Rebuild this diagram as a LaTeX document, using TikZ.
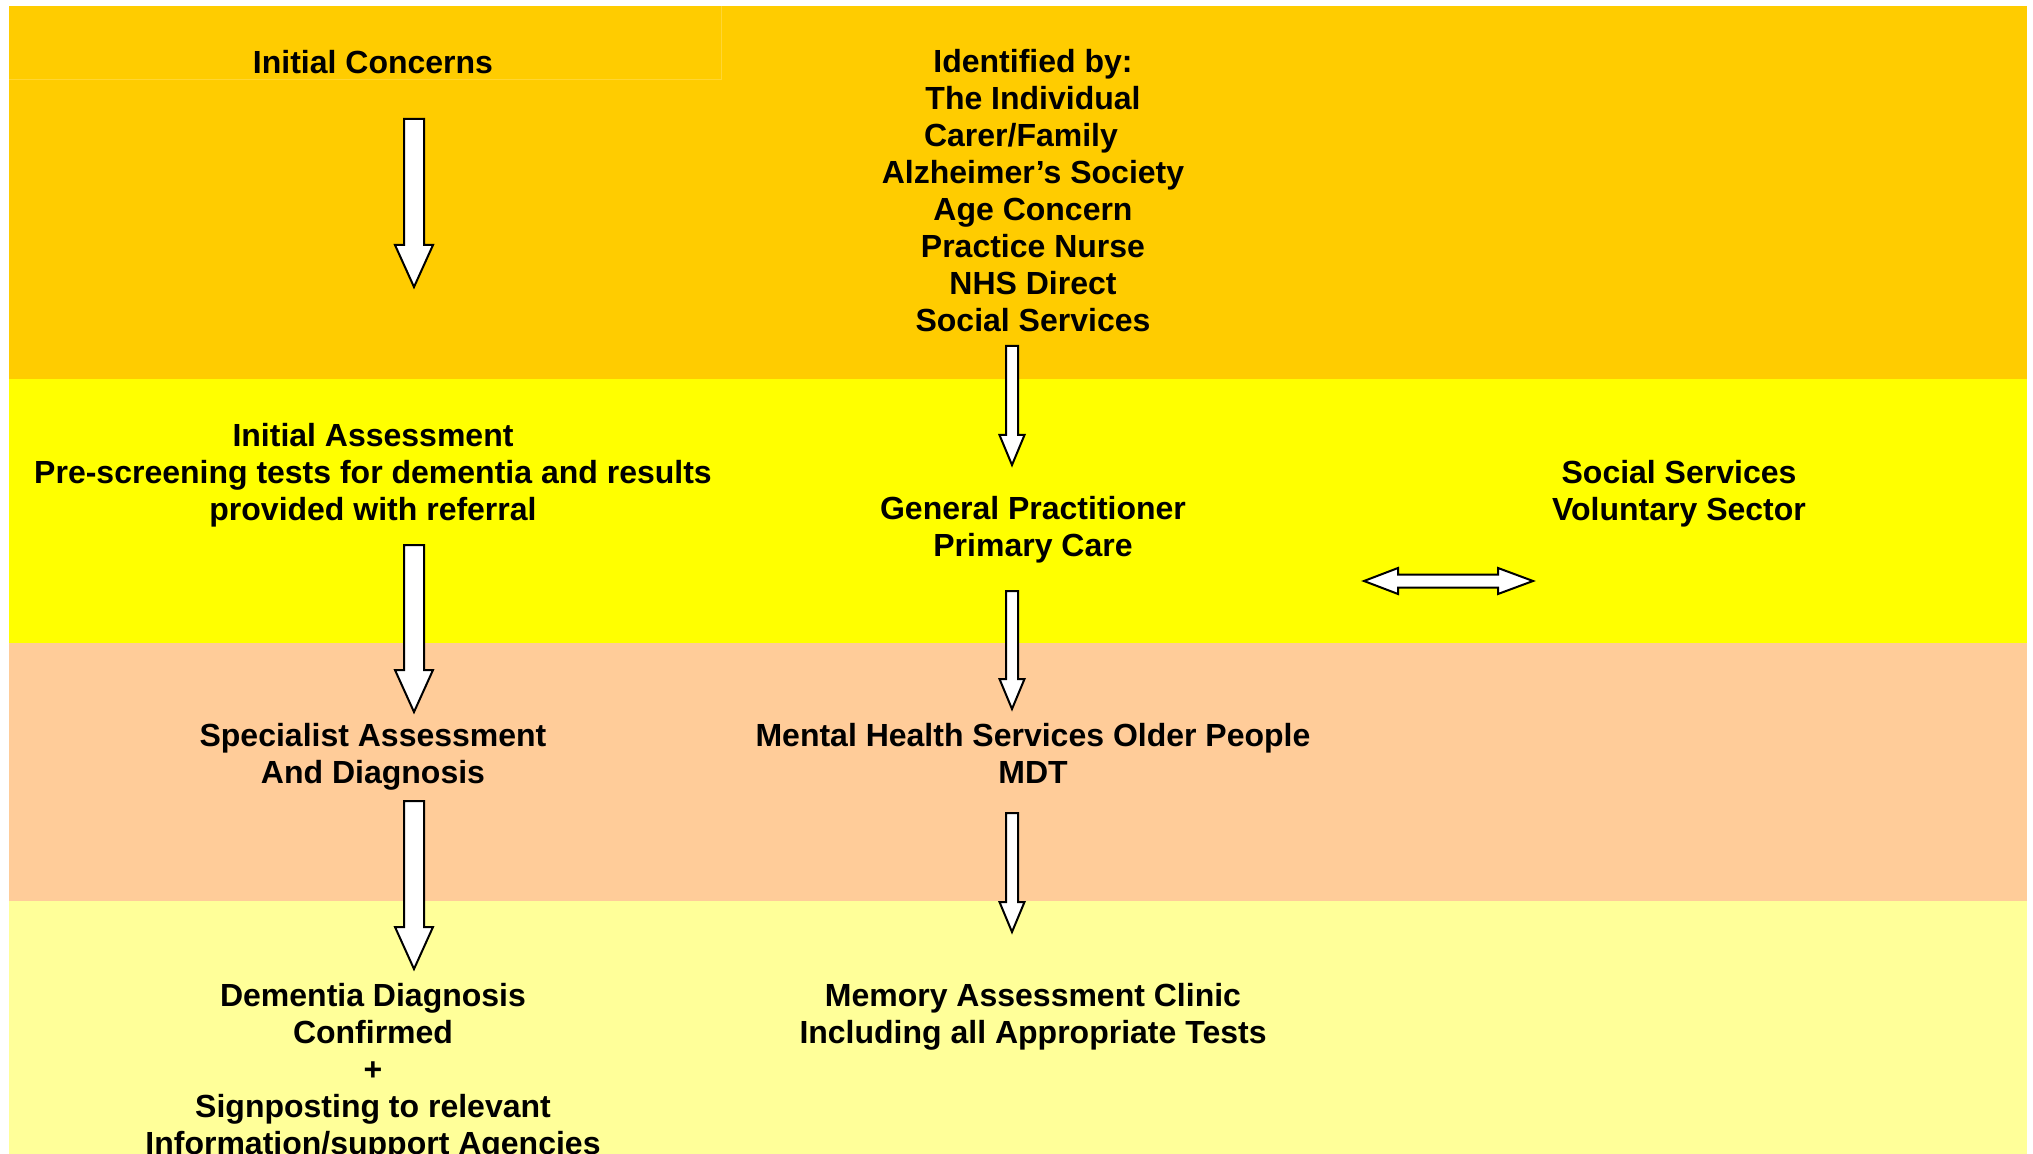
\documentclass[tikz,border=0pt]{standalone}
\usepackage{fontspec}
\setmainfont{Liberation Sans}
\definecolor{bandA}{HTML}{FFCC00}
\definecolor{bandB}{HTML}{FFFF00}
\definecolor{bandC}{HTML}{FFCC99}
\definecolor{bandD}{HTML}{FFFF99}
\definecolor{cellline}{HTML}{FFD633}
\tikzset{
  lbl/.style={align=center, inner sep=0pt, font=\bfseries\fontsize{16pt}{18.5pt}\selectfont},
  blockarrow/.style={draw=black, fill=white, line width=1pt, line join=miter},
}
\newcommand\blkdown[6]{%
  \draw[blockarrow] ({#1-#4},{#2}) -- ({#1+#4},{#2}) -- ({#1+#4},{#3-#6}) -- ({#1+#5},{#3-#6})
    -- ({#1},{#3}) -- ({#1-#5},{#3-#6}) -- ({#1-#4},{#3-#6}) -- cycle;}
\begin{document}
\begin{tikzpicture}[x=0.5pt,y=-0.5pt]
\clip (0,0) rectangle (2033,1154);
\fill[white] (0,0) rectangle (2033,1154);
% bands
\fill[bandA] (9,6) rectangle (2027,379);
\fill[bandB] (9,379) rectangle (2027,643);
\fill[bandC] (9,643) rectangle (2027,901);
\fill[bandD] (9,901) rectangle (2027,1160);
\draw[cellline, line width=0.5pt] (9,80) -- (721,80) -- (721,6);
% texts
\node[lbl] (ic) at (373,62) {Initial Concerns};
\node[lbl] (idby) at (1033,191) {Identified by:\\The Individual\\Carer/Family\kern12pt\\Alzheimer’s Society\\Age Concern\\Practice Nurse\\NHS Direct\\Social Services};
\node[lbl] (ia) at (373,475) {Initial Assessment\\Pre-screening tests for dementia and results\\provided with referral};
\node[lbl] (gp) at (1033,530) {General Practitioner\\Primary Care};
\node[lbl] (ss) at (1679,494) {Social Services\\Voluntary Sector};
\node[lbl] (sad) at (373,757) {Specialist Assessment\\And Diagnosis};
\node[lbl] (mh) at (1033,753) {Mental Health Services Older People\\MDT};
\node[lbl, anchor=north] (dd) at (373,983) {Dementia Diagnosis\\Confirmed\\+\\Signposting to relevant\\Information/support Agencies};
\node[lbl] (mac) at (1033,1017) {Memory Assessment Clinic\\Including all Appropriate Tests};
% arrows left column
\blkdown{414}{119}{287}{10}{19}{42}
\blkdown{414}{545}{712}{10}{19}{42}
\blkdown{414}{801}{969}{10}{19}{42}
% arrows middle column
\blkdown{1012}{346}{465}{6}{12.5}{30}
\blkdown{1012}{591}{709}{6}{12.5}{30}
\blkdown{1012}{813}{932}{6}{12.5}{30}
% double arrow
\coordinate (dl) at (1364,581);
\coordinate (dr) at (1533,581);
\draw[blockarrow] (dl) -- (1398,568) -- (1398,574.5) -- (1498,574.5) -- (1498,568) -- (dr)
  -- (1498,594) -- (1498,587.5) -- (1398,587.5) -- (1398,594) -- cycle;
\end{tikzpicture}
\end{document}
